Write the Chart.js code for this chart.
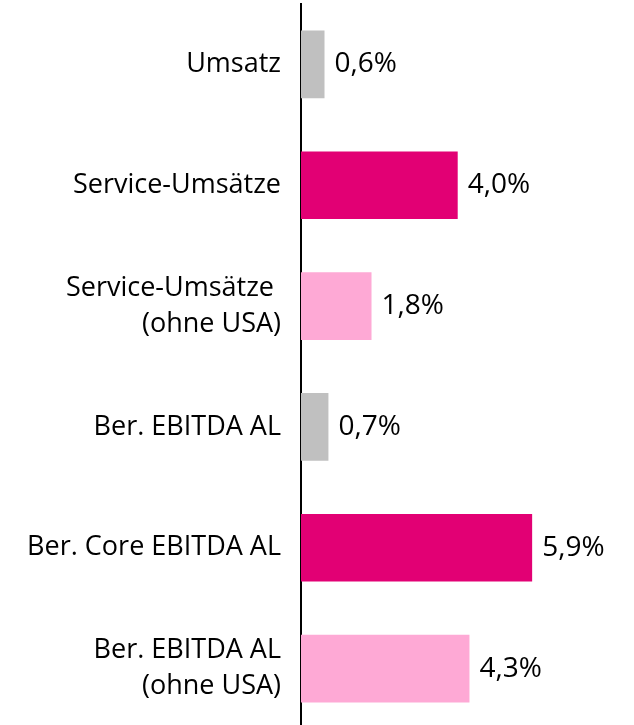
<!DOCTYPE html>
<html>
<head>
<meta charset="utf-8">
<script src="https://cdn.jsdelivr.net/npm/chart.js@4"></script>
<style>
  html, body { margin: 0; padding: 0; background: #fff; overflow: hidden; }
  /* a bit taller than the window: the axis runs off the bottom edge */
  #wrap { width: 634px; height: 729px; }
</style>
</head>
<body>
<div id="wrap"><canvas id="myChart"></canvas></div>
<script>
// data
const categories = [
  "Umsatz",
  "Service-Umsätze",
  ["Service-Umsätze ", "(ohne USA)"],
  "Ber. EBITDA AL",
  "Ber. Core EBITDA AL",
  ["Ber. EBITDA AL", "(ohne USA)"],
];
const values = [0.6, 4.0, 1.8, 0.7, 5.9, 4.3];
const valueLabels = ["0,6%", "4,0%", "1,8%", "0,7%", "5,9%", "4,3%"];

const gray = "#c0c0c0";
const magenta = "#e20074";
const pink = "#fea9d5";
const barColors = [gray, magenta, pink, gray, magenta, pink];

const FONT = "'Open Sans', sans-serif";

// draw the value text at the end of every bar
const valueLabelPlugin = {
  id: "valueLabels",
  afterDatasetsDraw(chart) {
    const ctx = chart.ctx;
    const meta = chart.getDatasetMeta(0);
    ctx.save();
    ctx.font = "28px " + FONT;
    ctx.fillStyle = "#000";
    ctx.textAlign = "left";
    ctx.textBaseline = "middle";
    meta.data.forEach((bar, i) => {
      ctx.fillText(valueLabels[i], bar.x + 10, bar.y);
    });
    ctx.restore();
  },
};

const config = {
  type: "bar",
  data: {
    labels: categories,
    datasets: [
      {
        data: values,
        backgroundColor: barColors,
        borderWidth: 0,
        categoryPercentage: 1,
        barPercentage: 0.56,
      },
    ],
  },
  options: {
    indexAxis: "y",
    responsive: true,
    maintainAspectRatio: false,
    animation: false,
    layout: {
      padding: { top: 4, right: 0, bottom: 0, left: 0 },
    },
    scales: {
      x: {
        display: false,
        min: 0,
        max: 8.5,
      },
      y: {
        grid: { display: false, drawTicks: false },
        border: { display: true, color: "#000", width: 2 },
        ticks: {
          color: "#000",
          padding: 20,
          font: { family: FONT, size: 27, lineHeight: 1.35 },
        },
        afterFit(scale) {
          scale.width = 301;
          // no extra space above/below for the tick labels
          scale.paddingTop = 0;
          scale.paddingBottom = 0;
        },
      },
    },
    plugins: {
      legend: { display: false },
      tooltip: { enabled: false },
    },
  },
};

new Chart(document.getElementById("myChart").getContext("2d"), {
  ...config,
  plugins: [valueLabelPlugin],
});
</script>
</body>
</html>
